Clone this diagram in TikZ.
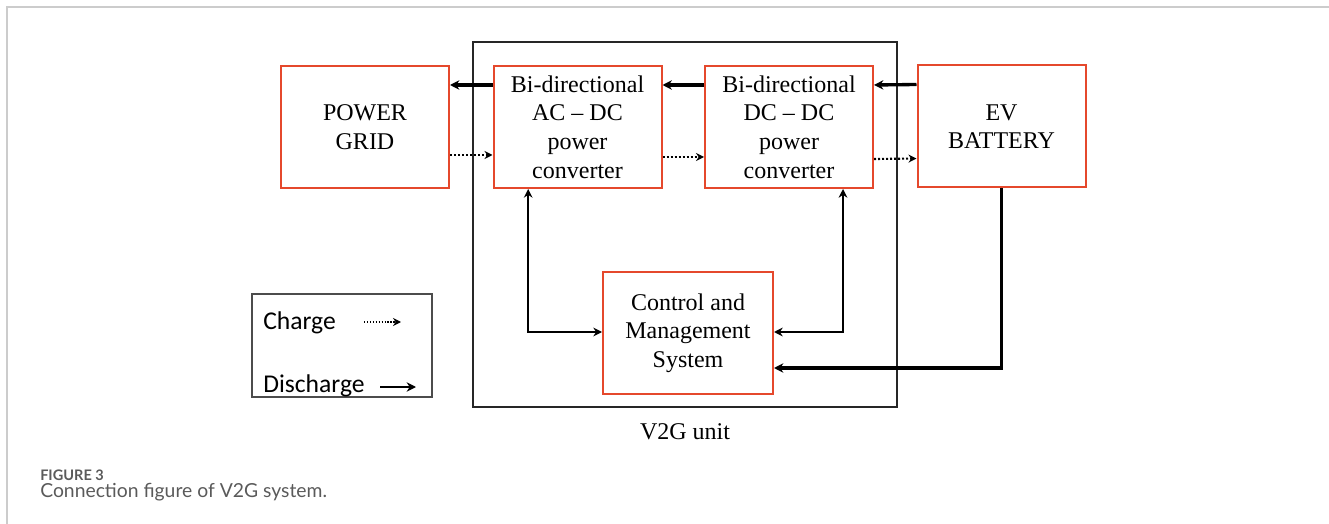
\documentclass[tikz,border=0pt]{standalone}
\usepackage{fontspec}
\setmainfont{Liberation Serif}
\newfontfamily\legendfont{Carlito}
\newfontfamily\capfont{Lato}
\usetikzlibrary{arrows.meta}
\definecolor{boxred}{HTML}{E5482C}
\definecolor{capgray}{HTML}{5A5A5A}
\begin{document}
\begin{tikzpicture}[x=0.75pt,y=-0.75pt,
  blockbox/.style={draw=boxred, line width=1.5pt, minimum width=126pt, minimum height=91.5pt,
    inner sep=0pt, align=center, font=\fontsize{18}{21.4}\selectfont},
  dis/.style={line width=2.5pt, -{Stealth[length=7pt,width=7pt]}},
  disboth/.style={line width=1.8pt, {Stealth[length=6.5pt,width=6.5pt]}-{Stealth[length=6.5pt,width=6.5pt]}},
  chg/.style={line width=1.6pt, dash pattern=on 1.5pt off 1.5pt, -{Stealth[length=6pt,width=6pt]}},
  legtext/.style={font=\legendfont\fontsize{19.2}{20}\selectfont, anchor=west, inner sep=0pt}
]
\useasboundingbox (0,0) rectangle (1329,524);
% page frame
\draw[black!20, line width=1.1pt] (7,524) -- (7,7) -- (1329,7);

% V2G unit outer box
\node[draw=black!85, line width=1.5pt, minimum width=318pt, minimum height=273.75pt, inner sep=0pt] (v2g) at (685,224.5) {};
\node[font=\fontsize{18}{21.4}\selectfont] (v2glabel) at (685,432) {V2G unit};

% blocks
\node[blockbox] (grid) at (365,127) {POWER\\GRID};
\node[blockbox] (acdc) at (577.5,127) {Bi-directional\\AC -- DC\\power\\converter};
\node[blockbox] (dcdc) at (789,127) {Bi-directional\\DC -- DC\\power\\converter};
\node[blockbox] (ev) at (1001.5,126.5) {EV\\BATTERY};
\node[blockbox, minimum width=127.5pt] (cms) at (688,333) {Control and\\Management\\System};

% discharge (solid)
\draw[dis] ([yshift=31.5pt]acdc.west) -- ([yshift=31.5pt]grid.east);
\draw[dis] ([yshift=31.5pt]dcdc.west) -- ([yshift=31.5pt]acdc.east);
\draw[dis] ([yshift=31.5pt]ev.west) -- ([yshift=31.5pt]dcdc.east);

% charge (dotted)
\draw[chg] ([yshift=-21pt]grid.east) -- ([yshift=-21pt]acdc.west);
\draw[chg] ([yshift=-22.5pt]acdc.east) -- ([yshift=-22.5pt]dcdc.west);
\draw[chg] ([yshift=-24pt]dcdc.east) -- ([yshift=-24pt]ev.west);

% control links
\draw[disboth] ([yshift=0.75pt]cms.west) -| ([xshift=-37pt]acdc.south);
\draw[disboth] ([yshift=0.75pt]cms.east) -| ([xshift=40.5pt]dcdc.south);
\draw[line width=2.6pt, -{Stealth[length=7pt,width=7pt]}] (ev.south) |- ([yshift=-26.25pt]cms.east);

% legend
\node[draw=black!70, line width=0.8pt, minimum width=135pt, minimum height=77.25pt, inner sep=0pt] (legend) at (342,345.5) {};
\node[legtext] (lcharge) at (263,323) {Charge};
\node[legtext] (ldis) at (263,386) {Discharge};
\coordinate (lc1) at (364,322);
\coordinate (lc2) at (401,322);
\coordinate (ld1) at (380,387);
\coordinate (ld2) at (416,387);
\draw[chg, line width=1.1pt, dash pattern=on 1.1pt off 1.1pt] (lc1) -- (lc2);
\draw[dis, line width=1.8pt] (ld1) -- (ld2);

% caption
\node[anchor=west, inner sep=0pt, text=capgray, font=\capfont\bfseries\fontsize{10.9}{12}\selectfont] (fig) at (40,475) {FIGURE 3};
\node[anchor=west, inner sep=0pt, text=capgray, font=\capfont\fontsize{14.5}{16}\selectfont] (cap) at (40,492) {Connection figure of V2G system.};
\end{tikzpicture}
\end{document}
